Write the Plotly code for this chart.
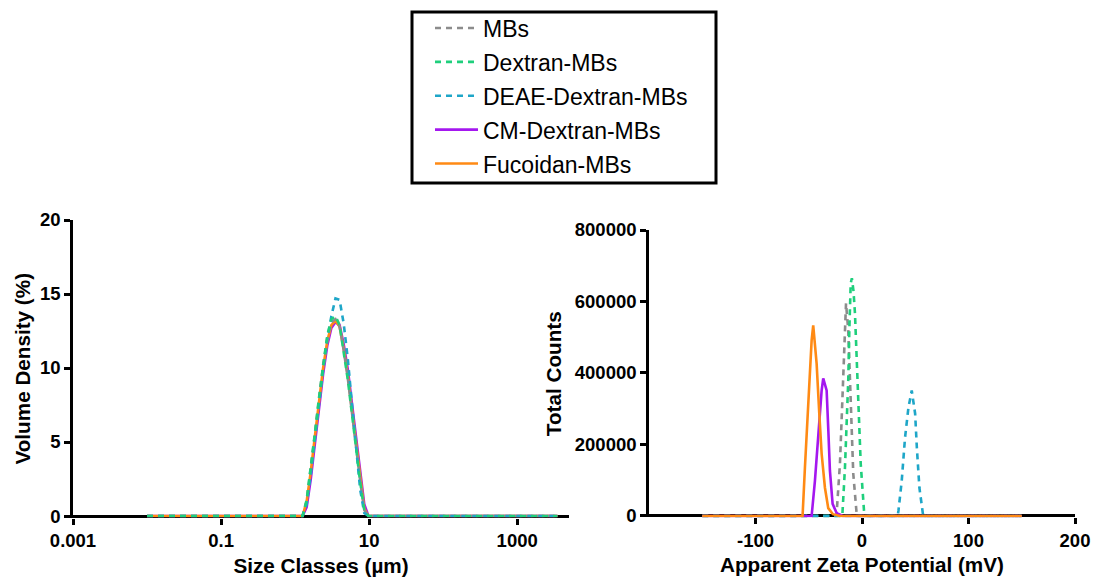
import plotly.graph_objects as go

# ---------------- data ----------------
series_names = ["MBs", "Dextran-MBs", "DEAE-Dextran-MBs", "CM-Dextran-MBs", "Fucoidan-MBs"]
series_colors = ["#8c8c8c", "#1fcf7c", "#1ea6c8", "#a417ef", "#ff8a14"]
series_dash = ["6px,5px", "6px,5px", "6px,5px", "solid", "solid"]

# Size distribution (µm, volume %)
size_classes = [0.01, 1.261, 1.434, 1.629, 1.852, 2.105, 2.392, 2.719, 3.09, 3.512,
                3.991, 4.536, 5.155, 5.859, 6.659, 7.568, 8.601, 9.775, 3500]
vol_mbs     = [0, 0, 1.0, 3.1, 5.5, 7.9, 10.2, 12.0, 13.1, 13.3, 12.8, 11.2, 9.3, 7.0, 4.6, 2.4, 0.4, 0, 0]
vol_dextran = [0, 0, 1.1, 3.2, 5.6, 8.0, 10.3, 12.2, 13.3, 13.5, 12.9, 11.2, 9.2, 6.9, 4.5, 2.3, 0.4, 0, 0]
vol_deae    = [0, 0, 0.8, 2.8, 5.2, 7.6, 9.9, 11.9, 13.5, 14.7, 14.6, 13.0, 10.6, 7.6, 4.6, 1.8, 0.2, 0, 0]
vol_cm      = [0, 0, 0.6, 2.5, 4.9, 7.3, 9.6, 11.5, 12.7, 13.1, 12.9, 11.6, 9.9, 7.6, 5.3, 3.0, 0.8, 0, 0]
vol_fuc     = [0, 0, 1.0, 3.0, 5.4, 7.7, 10.0, 11.8, 12.9, 13.2, 12.8, 11.3, 9.5, 7.2, 4.9, 2.7, 0.5, 0, 0]

# Zeta potential (mV, total counts)
zeta_mbs = [-150, -24, -20.7, -19.1, -17.6, -16, -15, -12.9, -11.3, -9.7, -8.2, -5, -4, 150]
cnt_mbs  = [0, 0, 146000, 286000, 426000, 567000, 595000, 519000, 379000, 238000, 118000, 5000, 0, 0]
zeta_dextran = [-150, -18.5, -16, -14.4, -12.9, -11.9, -10.6, -9.5, -8, -6.6, -5, -3.5, -1.2, 1.9, 3, 150]
cnt_dextran  = [0, 0, 135000, 258000, 379000, 519000, 651000, 665000, 630000, 567000, 427000, 286000, 146000, 14000, 0, 0]
zeta_deae = [-150, 33.5, 34.2, 37.3, 40.4, 43.6, 46.7, 49.9, 51.5, 53.9, 57.1, 58, 150]
cnt_deae  = [0, 0, 14000, 98000, 219000, 303000, 351000, 286000, 191000, 79000, 8000, 0, 0]
zeta_cm = [-150, -47.3, -44.2, -41.1, -37.9, -36.4, -33.2, -31.6, -30.1, -27.6, -23.8, -18, 150]
cnt_cm  = [0, 0, 98000, 238000, 351000, 385000, 351000, 238000, 126000, 34000, 8000, 0, 0]
zeta_fuc = [-150, -55.8, -53.6, -50.5, -47.3, -45.8, -42.6, -40.1, -37.9, -34.8, -31.7, -27.3, -21, 150]
cnt_fuc  = [0, 0, 135000, 331000, 491000, 533000, 426000, 286000, 174000, 79000, 22000, 5000, 0, 0]

size_tickvals = [0.001, 0.1, 10, 1000]
size_ticktext = ["0.001", "0.1", "10", "1000"]
vol_tickvals = [0, 5, 10, 15, 20]
vol_ticktext = ["0", "5", "10", "15", "20"]
zeta_tickvals = [-100, 0, 100, 200]
zeta_ticktext = ["-100", "0", "100", "200"]
cnt_tickvals = [0, 200000, 400000, 600000, 800000]
cnt_ticktext = ["0", "200000", "400000", "600000", "800000"]

vols = [vol_mbs, vol_dextran, vol_deae, vol_cm, vol_fuc]
zetas = [zeta_mbs, zeta_dextran, zeta_deae, zeta_cm, zeta_fuc]
cnts = [cnt_mbs, cnt_dextran, cnt_deae, cnt_cm, cnt_fuc]


def bold(labels):
    return ["<b>%s</b>" % t for t in labels]


FONT = "Liberation Sans, Arial, sans-serif"
LW = 2.6

fig = go.Figure()

# left chart draw order (green dashed on top)
left_order = [3, 4, 0, 2, 1]
for i in left_order:
    fig.add_trace(go.Scatter(
        x=size_classes, y=vols[i], mode="lines", name=series_names[i],
        line=dict(color=series_colors[i], width=LW, dash=series_dash[i]),
        legendrank=i + 1, legendgroup=series_names[i], showlegend=True,
        xaxis="x", yaxis="y", hoverinfo="skip"))

for i in range(5):
    fig.add_trace(go.Scatter(
        x=zetas[i], y=cnts[i], mode="lines", name=series_names[i],
        line=dict(color=series_colors[i], width=LW, dash=series_dash[i]),
        legendgroup=series_names[i], showlegend=False,
        xaxis="x2", yaxis="y2", hoverinfo="skip"))

tickfont = dict(family=FONT, size=18.5, color="black")
titlefont = dict(family=FONT, size=20.7, color="black")

common = dict(showgrid=False, linecolor="black", linewidth=LW,
              ticks="outside", ticklen=6, tickwidth=LW, tickcolor="black",
              tickfont=tickfont, automargin=False)

fig.update_layout(
    width=1097, height=588,
    margin=dict(l=0, r=0, t=0, b=0),
    paper_bgcolor="white", plot_bgcolor="white",
    font=dict(family=FONT, color="black"),
    xaxis=dict(domain=[73 / 1097, 569 / 1097], type="log", range=[-3, 3.7],
               tickvals=size_tickvals, ticktext=bold(size_ticktext), showline=False,
               title=dict(text="<b>Size Classes (µm)</b>", font=titlefont, standoff=8),
               anchor="y", **common),
    yaxis=dict(domain=[(588 - 517.5) / 588, (588 - 220) / 588], range=[-0.1, 20],
               tickvals=vol_tickvals, ticktext=bold(vol_ticktext), showline=True,
               zeroline=True, zerolinecolor="black", zerolinewidth=LW + 0.4,
               title=dict(text="<b>Volume Density (%)</b>", font=titlefont, standoff=4),
               anchor="x", **common),
    xaxis2=dict(domain=[649 / 1097, 1075 / 1097], range=[-200, 200],
                tickvals=zeta_tickvals, ticktext=bold(zeta_ticktext), zeroline=False,
                showline=False,
                title=dict(text="<b>Apparent Zeta Potential (mV)</b>", font=titlefont, standoff=7),
                anchor="y2", **common),
    yaxis2=dict(domain=[(588 - 517.4) / 588, (588 - 230) / 588], range=[-4000, 800000],
                tickvals=cnt_tickvals, ticktext=bold(cnt_ticktext), showline=True,
                zeroline=True, zerolinecolor="black", zerolinewidth=LW + 0.4,
                title=dict(text="<b>Total Counts</b>", font=titlefont, standoff=8),
                anchor="x2", **common),
    legend=dict(x=430 / 1097, y=1 - 6.5 / 588, xanchor="left", yanchor="top",
                borderwidth=0, bgcolor="rgba(0,0,0,0)",
                font=dict(family=FONT, size=23, color="black"),
                tracegroupgap=1, itemwidth=43),
    showlegend=True,
    shapes=[dict(type="rect", xref="paper", yref="paper",
                 x0=412 / 1097, x1=716 / 1097, y0=1 - 183 / 588, y1=1 - 12 / 588,
                 line=dict(color="black", width=3), fillcolor="rgba(0,0,0,0)")],
)

fig.write_html("out.html")
